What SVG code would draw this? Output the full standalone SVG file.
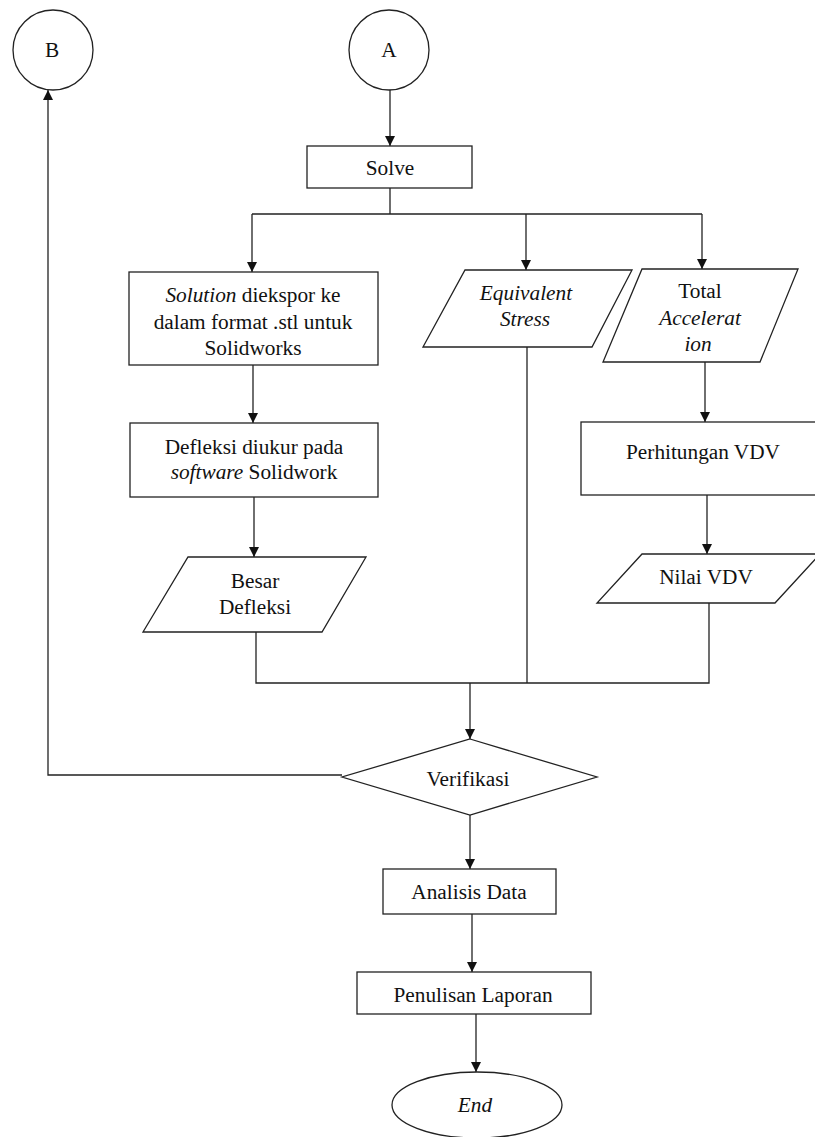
<svg xmlns="http://www.w3.org/2000/svg" width="815" height="1137" viewBox="0 0 815 1137">
<style>
.n{fill:#fff;stroke:#222;stroke-width:1.3}
.c{fill:none;stroke:#222;stroke-width:1.3}
text{font-family:"Liberation Serif","Times New Roman",serif;font-size:21.3px;fill:#111;text-anchor:middle}
.i{font-style:italic}
</style>
<defs>
<marker id="ah" viewBox="0 0 10 10" refX="10" refY="5" markerWidth="10" markerHeight="10" markerUnits="userSpaceOnUse" orient="auto">
<path d="M0,0 L10,5 L0,10 z" fill="#111"/>
</marker>
</defs>
<g id="connectors">
<path class="c" d="M390,90 L390,146" marker-end="url(#ah)"/>
<path class="c" d="M390,188 L390,214 M252,214 L702,214"/>
<path class="c" d="M252,214 L252,272" marker-end="url(#ah)"/>
<path class="c" d="M526,214 L526,270" marker-end="url(#ah)"/>
<path class="c" d="M702,214 L702,269" marker-end="url(#ah)"/>
<path class="c" d="M253,365 L253,423" marker-end="url(#ah)"/>
<path class="c" d="M254,497 L254,557" marker-end="url(#ah)"/>
<path class="c" d="M705,362 L705,422" marker-end="url(#ah)"/>
<path class="c" d="M707,495 L707,554" marker-end="url(#ah)"/>
<path class="c" d="M256,632 L256,683 L709,683 L709,603"/>
<path class="c" d="M527,347 L527,683"/>
<path class="c" d="M470,683 L470,739" marker-end="url(#ah)"/>
<path class="c" d="M342,775 L48,775 L48,90" marker-end="url(#ah)"/>
<path class="c" d="M470,815 L470,869" marker-end="url(#ah)"/>
<path class="c" d="M472,914 L472,972" marker-end="url(#ah)"/>
<path class="c" d="M476,1014 L476,1072" marker-end="url(#ah)"/>
</g>
<g id="node-B">
<circle class="n" cx="53" cy="50" r="40"/>
<text x="52" y="57">B</text>
</g>
<g id="node-A">
<circle class="n" cx="389" cy="50" r="40"/>
<text x="389" y="57">A</text>
</g>
<g id="node-solve">
<rect class="n" x="307" y="146" width="165" height="42"/>
<text x="390" y="175">Solve</text>
</g>
<g id="node-solution">
<rect class="n" x="129" y="272" width="249" height="93"/>
<text x="253" y="302"><tspan class="i">Solution</tspan> diekspor ke</text>
<text x="253" y="329">dalam format .stl untuk</text>
<text x="253" y="355">Solidworks</text>
</g>
<g id="node-defleksi">
<rect class="n" x="130" y="423" width="248" height="74"/>
<text x="254" y="454">Defleksi diukur pada</text>
<text x="254" y="479"><tspan class="i">software</tspan> Solidwork</text>
</g>
<g id="node-besar">
<polygon class="n" points="188,557 366,557 322,632 143,632"/>
<text x="255" y="588">Besar</text>
<text x="255" y="614">Defleksi</text>
</g>
<g id="node-equivalent">
<polygon class="n" points="465,270 632,270 592,347 423,347"/>
<text class="i" x="526" y="300">Equivalent</text>
<text class="i" x="525" y="326">Stress</text>
</g>
<g id="node-total">
<polygon class="n" points="642,269 798,269 760,362 603,362"/>
<text x="700" y="298">Total</text>
<text class="i" x="700" y="325">Accelerat</text>
<text class="i" x="698" y="351">ion</text>
</g>
<g id="node-perhitungan">
<rect class="n" x="581" y="422" width="244" height="73"/>
<text x="703" y="459">Perhitungan VDV</text>
</g>
<g id="node-nilai">
<polygon class="n" points="642,554 820,554 775,603 597,603"/>
<text x="706" y="584">Nilai VDV</text>
</g>
<g id="node-verifikasi">
<polygon class="n" points="470,739 597,777 470,815 342,777"/>
<text x="468" y="786">Verifikasi</text>
</g>
<g id="node-analisis">
<rect class="n" x="383" y="869" width="173" height="45"/>
<text x="469" y="899">Analisis Data</text>
</g>
<g id="node-penulisan">
<rect class="n" x="357" y="972" width="234" height="42"/>
<text x="473" y="1002">Penulisan Laporan</text>
</g>
<g id="node-end">
<ellipse class="n" cx="477" cy="1105" rx="85" ry="33"/>
<text class="i" x="475" y="1112">End</text>
</g>
</svg>
